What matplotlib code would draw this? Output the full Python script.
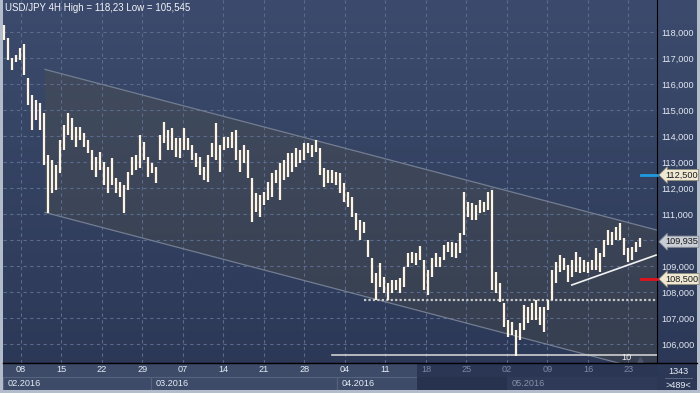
import matplotlib
matplotlib.use("Agg")
import matplotlib.pyplot as plt
import numpy as np
from matplotlib.colors import LinearSegmentedColormap
from matplotlib.patches import Rectangle, Polygon
from matplotlib.lines import Line2D
import matplotlib.transforms as mtransforms

plt.rcParams['font.family'] = ['Liberation Sans', 'DejaVu Sans']

# 12h bars (high / low)
highs = [118.27, 117.77, 117.00, 117.12, 117.38, 117.54, 116.23, 115.58, 115.38, 115.27,
         114.88, 113.27, 113.08, 112.88, 113.85, 114.42, 114.88, 114.69, 114.35, 114.35,
         114.12, 113.85, 113.46, 113.19, 113.38, 113.00, 112.81, 113.15, 112.38, 112.23,
         112.12, 112.62, 113.19, 113.27, 114.04, 113.77, 113.19, 112.96, 112.81, 114.04,
         114.54, 114.23, 114.31, 113.92, 113.92, 114.31, 113.92, 113.65, 113.35, 113.19,
         112.81, 113.27, 113.73, 114.50, 113.65, 113.96, 113.96, 114.15, 114.23, 113.46,
         113.65, 113.46, 112.38, 111.81, 111.73, 111.85, 112.23, 112.58, 112.69, 112.96,
         113.08, 113.35, 113.35, 113.54, 113.46, 113.73, 113.73, 113.65, 113.85, 113.54,
         112.77, 112.69, 112.69, 112.62, 112.58, 112.19, 111.85, 111.65, 111.04, 110.77,
         110.69, 110.00, 109.31, 108.73, 109.12, 108.58, 108.35, 108.46, 108.46, 108.54,
         108.96, 109.50, 109.54, 109.50, 109.77, 109.23, 108.85, 109.31, 109.50, 109.35,
         109.81, 109.92, 109.92, 109.88, 110.27, 111.85, 111.46, 111.42, 111.35, 111.54,
         111.46, 111.85, 111.92, 108.77, 108.35, 107.58, 106.92, 106.85, 106.54, 106.81,
         107.50, 107.42, 107.58, 107.69, 107.42, 107.42, 107.69, 108.85, 109.15, 109.42,
         109.31, 109.04, 109.23, 109.54, 109.35, 109.23, 109.15, 109.23, 109.69, 109.50,
         110.00, 110.38, 110.31, 110.50, 110.65, 110.08, 109.69, 109.73, 109.92, 110.08]
lows = [117.69, 116.92, 116.54, 116.85, 116.92, 116.35, 115.19, 114.23, 114.62, 114.23,
        112.88, 111.04, 111.81, 111.92, 112.58, 113.46, 114.04, 113.85, 113.58, 113.85,
        113.58, 113.35, 112.69, 112.42, 112.69, 112.12, 111.81, 112.12, 111.81, 111.65,
        111.04, 111.92, 112.50, 112.69, 112.77, 113.08, 112.42, 112.58, 112.19, 113.08,
        113.73, 113.46, 113.46, 113.19, 113.15, 113.46, 113.46, 113.08, 112.81, 112.50,
        112.31, 112.23, 113.19, 113.08, 112.62, 113.46, 113.54, 113.54, 113.08, 112.62,
        112.96, 112.38, 110.69, 111.08, 110.88, 111.35, 111.54, 111.65, 112.19, 111.54,
        112.31, 112.42, 112.62, 112.81, 112.96, 113.08, 113.35, 113.19, 113.38, 112.50,
        112.04, 112.19, 112.19, 112.12, 111.81, 111.46, 111.27, 110.88, 110.38, 110.00,
        110.27, 109.35, 108.35, 107.69, 108.19, 107.96, 107.69, 107.96, 108.08, 107.96,
        108.19, 108.96, 109.12, 109.04, 109.23, 108.08, 107.88, 108.58, 108.96, 108.96,
        109.23, 109.54, 109.35, 109.31, 109.50, 110.19, 110.88, 110.77, 110.77, 111.04,
        111.08, 111.15, 108.08, 107.96, 107.62, 106.65, 106.27, 106.35, 105.545, 106.15,
        106.54, 106.81, 106.92, 106.92, 106.73, 106.46, 107.31, 107.69, 108.35, 108.77,
        108.85, 108.38, 108.58, 108.77, 108.73, 108.77, 108.73, 108.85, 108.85, 108.77,
        109.35, 109.81, 109.81, 110.00, 110.00, 109.42, 109.15, 109.23, 109.54, 109.73]
last_price = 109.935

week_labels = ["08", "15", "22", "29", "07", "14", "21", "28",
               "04", "11", "18", "25", "02", "09", "16", "23"]
month_labels = ["02.2016", "03.2016", "04.2016", "05.2016"]
month_starts = [-2.22, 16.0, 39.0, 60.0]
price_ticks = list(range(106, 119))

channel_top = [(2.96, 116.56), (78.52, 110.38)]
channel_bottom = [(2.96, 111.06), (78.52, 104.88)]
support_line = [(68.0, 108.27), (78.4, 109.42)]
dotted_level, dotted_from = 107.69, 42.3
floor_level, floor_from = 105.58, 38.4
marked_levels = [(112.5, "112,500", "#1e9be0"), (108.5, "108,500", "#e3121c")]

xmin, xmax = -2.22, 78.52
ymin, ymax = 105.27, 119.23
scroll_x = 48.9  # start of darker part in the time strip

fig = plt.figure(figsize=(7, 3.93), dpi=100, facecolor="#b3bccb")

# background gradient for the whole panel
bg = fig.add_axes([3/700, 3/393, 694/700, 390/393], zorder=0)
cmap = LinearSegmentedColormap.from_list("bg", ["#2b3755", "#3c4b6d"])
bg.imshow(np.linspace(0, 1, 256).reshape(-1, 1), extent=(0, 1, 0, 1), origin="lower",
          aspect="auto", cmap=cmap)
bg.axis("off")

ax = fig.add_axes([3/700, 30/393, 654/700, 363/393], zorder=1)
ax.set_facecolor("none")
ax.set_xlim(xmin, xmax)
ax.set_ylim(ymin, ymax)

# channel
poly = Polygon([channel_top[0], channel_top[1], channel_bottom[1], channel_bottom[0]],
               closed=True, fc="#57553f", alpha=0.26, ec="none", zorder=1)
ax.add_patch(poly)
for ln in (channel_top, channel_bottom):
    ax.plot([ln[0][0], ln[1][0]], [ln[0][1], ln[1][1]], color="#737d92", lw=0.9, zorder=2)

# grid
week_x = np.arange(len(week_labels)) * 5
ax.set_xticks(week_x)
ax.set_yticks(price_ticks)
ax.grid(True, color="#5b6b8d", lw=0.8, ls=(0, (3, 3)), zorder=1)
ax.tick_params(axis="x", length=0, labelbottom=False)
ax.yaxis.tick_right()
# 110,000 is hidden behind the last-price tag
ax.set_yticklabels(["" if v == 110 else f"{v},000" for v in price_ticks])
ax.tick_params(axis="y", length=0, pad=3, labelsize=6.6, labelcolor="#e2e8f2")
for s in ("left", "top"):
    ax.spines[s].set_visible(False)
ax.spines["right"].set_color("black")
ax.spines["bottom"].set_color("black")

# price bars
bar_x = -2.1 + 0.494 * np.arange(len(highs))
ax.vlines(bar_x, lows, highs, color="#fff4e2", lw=1.6, zorder=4)

# drawn levels
ax.plot([dotted_from, xmax], [dotted_level] * 2, color="#c9c9c9", lw=1.6,
        ls=(0, (1, 1)), zorder=3)
ax.plot([floor_from, xmax], [floor_level] * 2, color="#cfcfcf", lw=1.2, zorder=3)
ax.plot([support_line[0][0], support_line[1][0]], [support_line[0][1], support_line[1][1]],
        color="#f2f2f2", lw=1.2, zorder=3)
ax.text(74.8, 105.5, "10", color="#f0f0f0", fontsize=6.6, ha="center", va="center", zorder=5)
ax.plot([76.4], [105.40], marker="^", color="#4b5770", ms=5, zorder=5)

ax.text(0.003, 0.978, "USD/JPY 4H High = 118,23 Low = 105,545", transform=ax.transAxes,
        color="#f2f4f8", fontsize=7, ha="left", va="center")

# price tags on the right scale
tr = mtransforms.blended_transform_factory(ax.transAxes, ax.transData)
for lvl, txt, col in marked_levels:
    ax.plot([0.975, 1.0], [lvl, lvl], color=col, lw=2, transform=tr, clip_on=False, zorder=5)
    ax.text(1.012, lvl, txt, transform=tr, fontsize=6.6, color="#1a1a1a", ha="left",
            va="center", bbox=dict(boxstyle="larrow,pad=0.12", fc="#efe9d3", ec="#8f8c7c", lw=0.6),
            clip_on=False, zorder=6)
ax.text(1.012, last_price, "109,935", transform=tr, fontsize=6.6, color="#1a1a1a", ha="left",
        va="center", bbox=dict(boxstyle="larrow,pad=0.12", fc="#c9cdd5", ec="#8a8f99", lw=0.6),
        clip_on=False, zorder=6)

# time strip
axb = fig.add_axes([3/700, 3/393, 654/700, 27/393], zorder=1)
axb.set_xlim(xmin, xmax)
axb.set_ylim(0, 27)
axb.axis("off")
axb.add_patch(Rectangle((xmin, 13), scroll_x - xmin, 14, fc="#3d4b69", ec="none"))
axb.add_patch(Rectangle((scroll_x, 13), xmax - scroll_x, 14, fc="#2a3654", ec="none"))
month_ends = month_starts[1:] + [xmax]
for i, (m, a, b) in enumerate(zip(month_labels, month_starts, month_ends)):
    if i < 3:
        b2 = min(b, scroll_x)
        axb.add_patch(Rectangle((a, 0.3), b2 - a, 12.7, fc="#3d4b69", ec="#56637f", lw=0.8))
        col = "#e6ecf5"
    else:
        axb.add_patch(Rectangle((scroll_x, 0), a - scroll_x, 13, fc="#27324e", ec="none"))
        axb.add_patch(Rectangle((a, 0), b - a, 13, fc="#2e3a57", ec="none"))
        col = "#8591a8"
    axb.text(a + 0.6, 6.3, m, color=col, fontsize=6.6, ha="left", va="center")
for wx, wl in zip(week_x, week_labels):
    col = "#e6ecf5" if wx < scroll_x else "#7d89a3"
    axb.text(wx, 20, wl, color=col, fontsize=6.6, ha="center", va="center")

# corner box and separators
fig.add_artist(Line2D([3/700, 697/700], [30/393, 30/393], color="black", lw=1))
fig.add_artist(Line2D([665/700, 692/700], [1 - 378/393] * 2, color="#5a6686", lw=0.7))
fig.text(678/700, 1 - 371/393, "1343", color="#e6ecf5", fontsize=6.6, ha="center", va="center")
fig.text(678/700, 1 - 385/393, ">489<", color="#e6ecf5", fontsize=6.6, ha="center", va="center")

fig.savefig("out.png", dpi=100, facecolor=fig.get_facecolor())
